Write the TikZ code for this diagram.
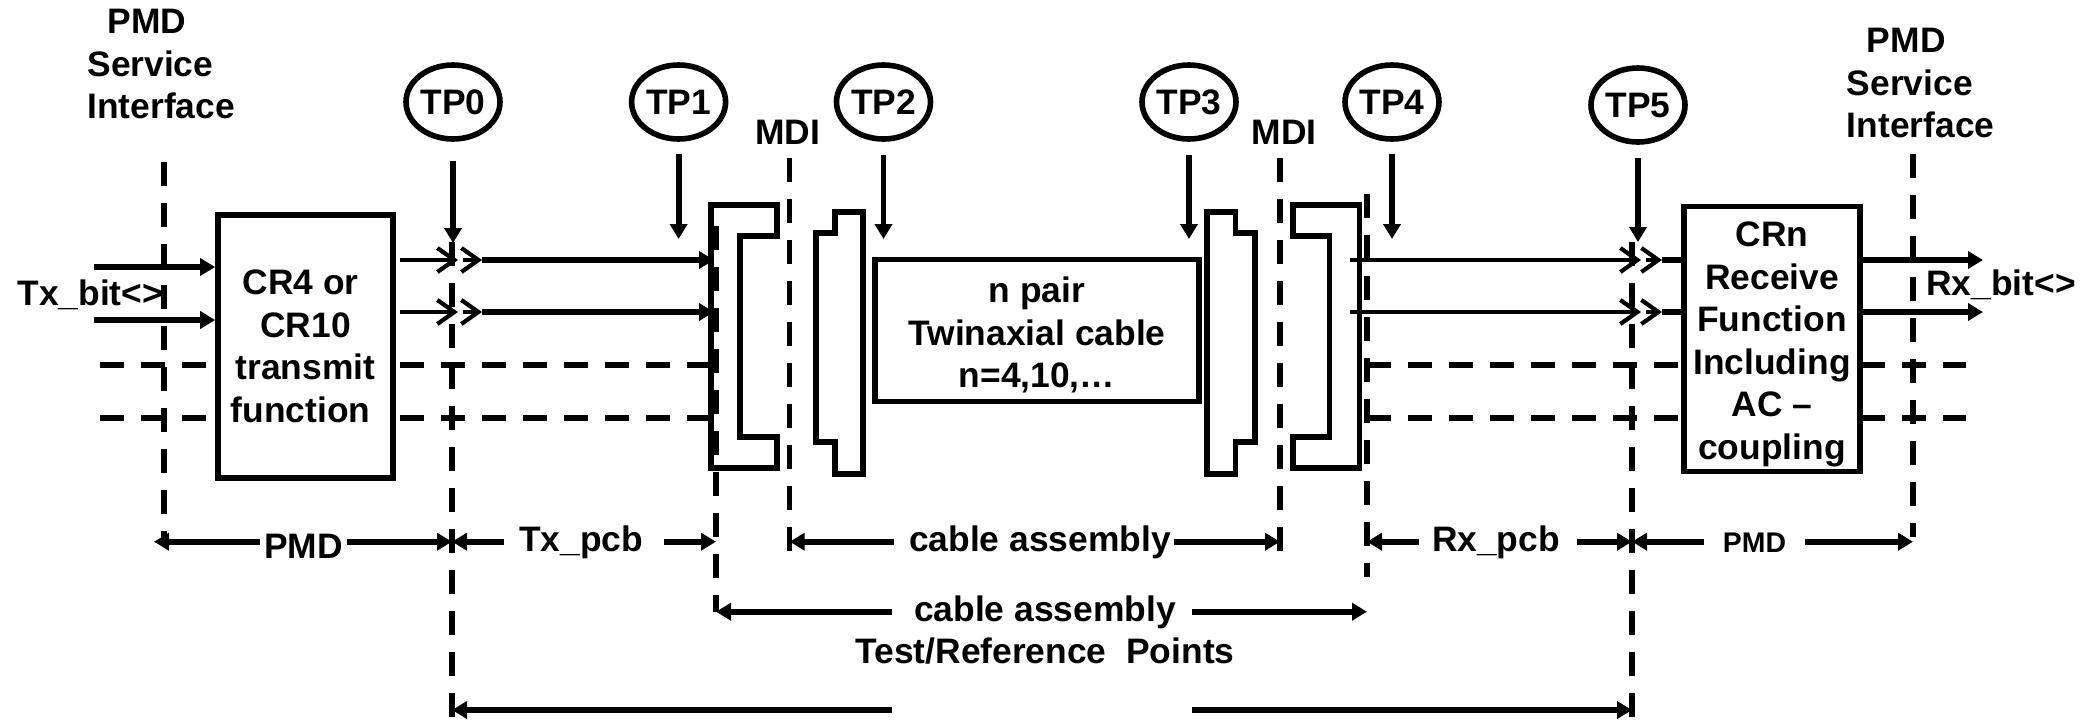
\documentclass[tikz,border=0pt]{standalone}
\usepackage{xcolor}
\usepackage{fontspec}
\setmainfont{Liberation Sans}
\usepackage{tikz}
\usetikzlibrary{positioning,arrows.meta,shapes.geometric}

\begin{document}
\begin{tikzpicture}[
  x=0.5pt, y=-0.5pt, >={Triangle[length=7.5pt,width=8.5pt]},
  every node/.style={font=\fontsize{17.7}{21.25}\selectfont\bfseries, inner sep=0pt},
  refline/.style={line width=2.7pt, dash pattern=on 11.75pt off 8.75pt},
  sig/.style={line width=2.9pt},
  thinsig/.style={line width=2.2pt},
  barbed/.style={-{Straight Barb[length=8.5pt,width=12pt,line width=2.1pt]}},
  fnbox/.style={draw, fill=white, line width=2.85pt, align=center},
  conn/.style={line width=2.75pt, miter limit=4},
  tp/.style={draw, ellipse, line width=2.8pt, minimum width=47pt, minimum height=37pt},
  dimlabel/.style={anchor=base},
]
  \useasboundingbox (0,0) rectangle (2084,720);

  % reference planes
  \foreach \ln/\lx/\lt/\lb in {txif/164/162/538, tp0v/452/242/717, tp1v/716/226/612, mdil/789.7/158/551,
      mdir/1280/158/551, tp4v/1367/194/577, tp5v/1632/242/717, rxif/1913/154/537} {
    \coordinate (\ln-t) at (\lx,\lt);
    \coordinate (\ln) at (\lx,\lb);
    \draw[refline] (\ln-t) -- (\ln);
  }

  \node (txbox)[fnbox, minimum width=87.5pt, minimum height=131.75pt] at (305.5,346.5)
    {CR4 or\hspace*{5pt}\\CR10\\transmit\hspace*{5pt}\\function\hspace*{5pt}};
  \node (rxbox)[fnbox, minimum width=88pt, minimum height=132.5pt] at (1772,339)
    {\rule{0pt}{17.6pt}CRn\\Receive\\Function\\Including\\AC --\\coupling};
  \node (cable)[fnbox, minimum width=162pt, minimum height=71pt] at (1037,330.5)
    {\rule{0pt}{17.6pt}n pair\\Twinaxial cable\\n=4,10,\ldots};

  % dashed lanes
  \foreach \dy/\dn in {365/c,418/d} {
    \coordinate (txl\dn) at (100,\dy);
    \coordinate (txr\dn) at (400,\dy);
    \coordinate (rxl\dn) at (1367,\dy);
    \coordinate (rxr\dn) at (1861,\dy);
    \coordinate (rxe\dn) at (1966,\dy);
    \draw[refline] (txl\dn) -- (txl\dn -| txbox.west);
    \draw[refline] (txr\dn) -- (711,\dy);
    \draw[refline] (rxl\dn) -- (rxl\dn -| rxbox.west);
    \draw[refline] (rxr\dn) -- (rxe\dn);
  }

  % signal lanes
  \foreach \sy/\sn in {260/a,312/b} {
    \coordinate (txout\sn) at (400,\sy);
    \coordinate (txm\sn) at (458,\sy);
    \coordinate (txn\sn) at (463,\sy);
    \coordinate (txo\sn) at (482,\sy);
    \coordinate (rxin\sn) at (1350,\sy);
    \coordinate (rxm\sn) at (1641,\sy);
    \coordinate (rxn\sn) at (1646,\sy);
    \coordinate (rxo\sn) at (1662,\sy);
    \coordinate (rxe\sn) at (1983,\sy);
    \draw[thinsig,barbed] (txout\sn) -- (txm\sn);
    \draw[thinsig,barbed] (txn\sn) -- (txo\sn);
    \draw[sig,->] (txo\sn) -- (714,\sy);
    \draw[thinsig,barbed] (rxin\sn) -- (rxm\sn);
    \draw[thinsig,barbed] (rxn\sn) -- (rxo\sn);
    \draw[sig] (rxo\sn) -- (rxo\sn -| rxbox.west);
    \draw[sig,->] (rxe\sn -| rxbox.east) -- (rxe\sn);
  }
  \coordinate (txina) at (94,267);
  \coordinate (txinb) at (94,320);
  \draw[sig,->] (txina) -- (txina -| txbox.west);
  \draw[sig,->] (txinb) -- (txinb -| txbox.west);

  % connectors
  \draw[conn] (711,205) -- (777,205) -- (777,236) -- (740,236) -- (740,437) -- (777,437) -- (777,468) -- (711,468) -- cycle;
  \draw[conn] (835,212) -- (863,212) -- (863,474) -- (835,474) -- (835,442) -- (816,442) -- (816,233) -- (835,233) -- cycle;
  \draw[conn] (1207,212) -- (1235.5,212) -- (1235.5,233) -- (1255,233) -- (1255,442) -- (1235.5,442) -- (1235.5,474) -- (1207,474) -- cycle;
  \draw[conn] (1359.5,205) -- (1293,205) -- (1293,236) -- (1329.7,236) -- (1329.7,437) -- (1293,437) -- (1293,468) -- (1359.5,468) -- cycle;

  % test points
  \foreach \tn/\tl/\tx/\ty/\tg/\te in {tp0/TP0/453/102/9.5/243, tp1/TP1/678.6/102/6/239, tp2/TP2/883.5/102/6.5/239,
      tp3/TP3/1189/102/6.5/239, tp4/TP4/1392/102/6/239, tp5/TP5/1638/105/6.5/242} {
    \node (\tn)[tp] at (\tx,\ty) {\tl};
    \coordinate (\tn-tip) at (\tx,\te);
    \draw[sig,->,shorten <=\tg pt] (\tn.south) -- (\tn-tip);
  }

  \node (txifname)[align=left, anchor=north west] at (87,9) {\hspace*{10pt}PMD\\Service\\Interface};
  \node (rxifname)[align=left, anchor=north west] at (1846.5,28) {\hspace*{10pt}PMD\\Service\\Interface};
  \node (mdilname)[above=6.5pt of mdil-t, xshift=-1pt] {MDI};
  \node (mdirname)[above=6.5pt of mdir-t, xshift=2pt] {MDI};
  \node (txbit)[anchor=base west] at (17,305) {Tx\_bit<>};
  \node (rxbit)[anchor=base west] at (1926,295) {Rx\_bit<>};

  % spans
  \coordinate (dimy) at (0,541.7);
  \coordinate (dimz) at (0,611.7);
  \coordinate (dimb) at (0,710);
  \node (pmdl)[dimlabel, minimum width=43.5pt] at (303.5,558) {PMD};
  \node (txpcb)[dimlabel, minimum width=80pt] at (584,551.7) {Tx\_pcb\hspace*{3pt}};
  \node (cabw)[dimlabel, minimum width=140pt] at (1034,551) {\hspace*{6pt}cable assembly};
  \node (rxpcb)[dimlabel, minimum width=79pt] at (1498,551.7) {Rx\_pcb\hspace*{2pt}};
  \node (pmdr)[dimlabel, minimum width=50.5pt, font=\fontsize{14.2}{17}\selectfont\bfseries] at (1754.5,552) {PMD};
  \node (cabt)[dimlabel, minimum width=150pt] at (1042,621.7) {\hspace*{3pt}cable assembly};
  \node (testref)[anchor=base] at (1045,663) {Test/Reference\ \ Points};
  \coordinate (gapl) at (892,710);
  \coordinate (gapr) at (1192,710);

  \draw[sig,->] (pmdl.west |- dimy) -- (154,541.7);
  \draw[sig,->] (pmdl.east |- dimy) -- (tp0v |- dimy);
  \draw[sig,->] (txpcb.west |- dimy) -- (tp0v |- dimy);
  \draw[sig,->] (txpcb.east |- dimy) -- (tp1v |- dimy);
  \draw[sig,->] (cabw.west |- dimy) -- (mdil |- dimy);
  \draw[sig,->] (cabw.east |- dimy) -- (mdir |- dimy);
  \draw[sig,->] (rxpcb.west |- dimy) -- (tp4v |- dimy);
  \draw[sig,->] (rxpcb.east |- dimy) -- (tp5v |- dimy);
  \draw[sig,->] (pmdr.west |- dimy) -- (tp5v |- dimy);
  \draw[sig,->] (pmdr.east |- dimy) -- (rxif |- dimy);
  \draw[sig,->] (cabt.west |- dimz) -- (tp1v |- dimz);
  \draw[sig,->] (cabt.east |- dimz) -- (tp4v |- dimz);
  \draw[sig,->] (gapl) -- (tp0v |- dimb);
  \draw[sig,->] (gapr) -- (tp5v |- dimb);
\end{tikzpicture}
\end{document}
